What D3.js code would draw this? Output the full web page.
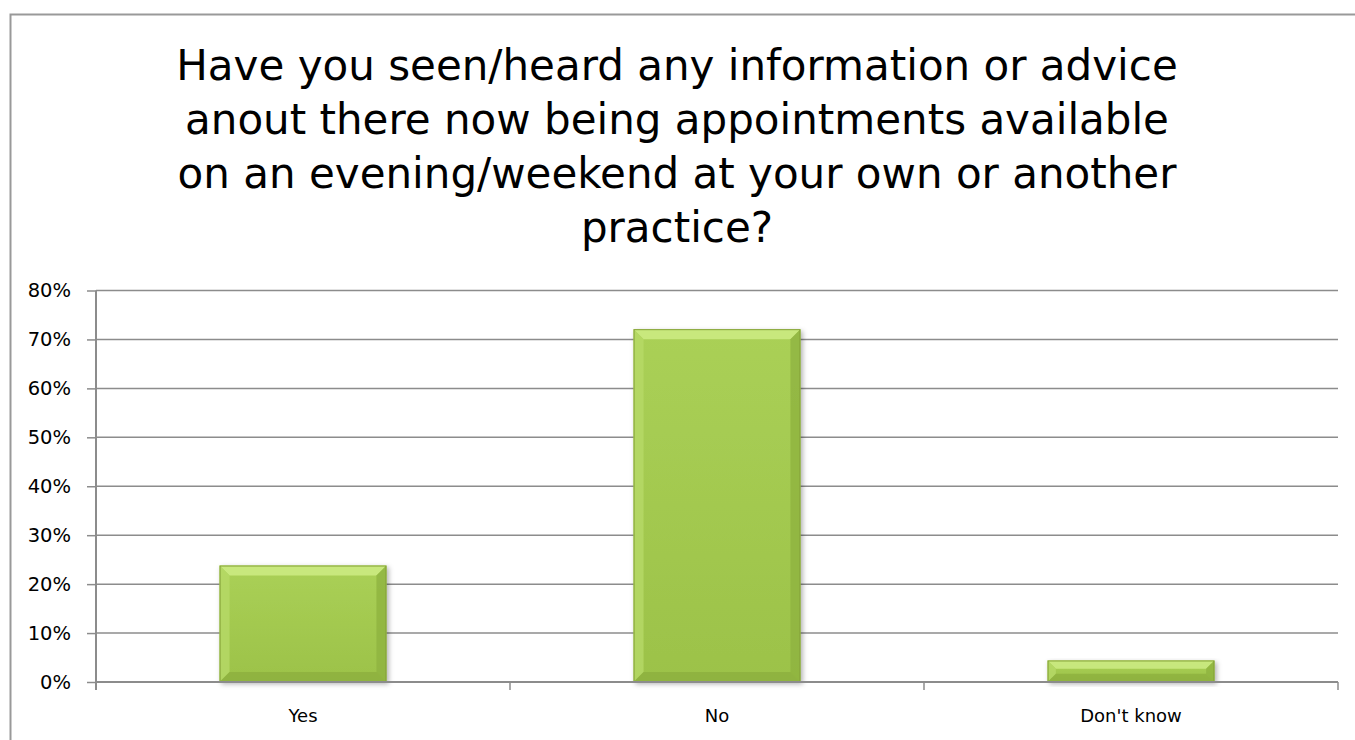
<!DOCTYPE html>
<html>
<head>
<meta charset="utf-8">
<script src="https://cdn.jsdelivr.net/npm/d3@7"></script>
<style>
  body { margin: 0; background: #fff; }
  svg { display: block; }
</style>
</head>
<body>
<script>
// chart values
var categories = ["Yes", "No", "Don't know"];
var values = [0.238, 0.721, 0.044];
var yTicks = [0, 0.1, 0.2, 0.3, 0.4, 0.5, 0.6, 0.7, 0.8];
var titleLines = [
  "Have you seen/heard any information or advice",
  "anout there now being appointments available",
  "on an evening/weekend at your own or another",
  "practice?"
];

var W = 1355, H = 740;
var fontFam = "'DejaVu Sans', Verdana, sans-serif";
var gray = "#8c8c8c";

var svg = d3.select("body").append("svg")
    .attr("width", W).attr("height", H);

// drop shadow for bars
var defs = svg.append("defs");
var f = defs.append("filter").attr("id", "shadow")
    .attr("x", "-10%").attr("y", "-10%").attr("width", "130%").attr("height", "130%");
f.append("feDropShadow").attr("dx", 2).attr("dy", 2).attr("stdDeviation", 2.5)
    .attr("flood-color", "#000").attr("flood-opacity", 0.3);

var g1 = defs.append("linearGradient").attr("id", "barFill")
    .attr("x1", 0).attr("y1", 0).attr("x2", 0).attr("y2", 1);
g1.append("stop").attr("offset", "0%").attr("stop-color", "#aad056");
g1.append("stop").attr("offset", "100%").attr("stop-color", "#9cc249");

// outer frame
svg.append("rect")
    .attr("x", 10.5).attr("y", 14.5)
    .attr("width", W + 20).attr("height", H + 20)
    .attr("fill", "none").attr("stroke", "#999").attr("stroke-width", 2);

// title
var title = svg.append("text")
    .attr("font-family", fontFam)
    .attr("font-size", 42)
    .attr("fill", "#000")
    .attr("text-anchor", "middle");
title.selectAll("tspan").data(titleLines).enter().append("tspan")
    .attr("x", 677)
    .attr("y", function(d, i) { return 80 + i * 54; })
    .text(function(d) { return d; });

// scales
var x = d3.scaleBand().domain(categories).range([96, 1338])
    .paddingInner(0.597).paddingOuter(0.2985);
var y = d3.scaleLinear().domain([0, 0.8]).range([682, 290.5]);

// gridlines
svg.append("g").selectAll("line").data(yTicks.slice(1)).enter().append("line")
    .attr("x1", 96).attr("x2", 1338)
    .attr("y1", function(d) { return y(d); })
    .attr("y2", function(d) { return y(d); })
    .attr("stroke", gray).attr("stroke-width", 1.5);

// y axis
var yAxis = svg.append("g")
    .attr("transform", "translate(96,0)")
    .call(d3.axisLeft(y).tickValues(yTicks).tickFormat(d3.format(".0%"))
      .tickSize(9).tickPadding(16).tickSizeOuter(0));
yAxis.select(".domain").attr("stroke", gray).attr("stroke-width", 2)
    .attr("d", "M0,290.5V690");
yAxis.selectAll(".tick line").attr("stroke", gray).attr("stroke-width", 1.5);
yAxis.selectAll("text").attr("font-family", fontFam).attr("font-size", 19.5).attr("fill", "#000");

// bars with bevelled edges
var bars = svg.append("g").selectAll("g").data(values).enter().append("g")
    .attr("filter", "url(#shadow)");

bars.each(function(d, i) {
  var g = d3.select(this);
  var x0 = x(categories[i]), w = x.bandwidth();
  var y0 = y(d), h = y(0) - y(d);
  var b = Math.min(10, h / 2.6);
  g.append("rect").attr("x", x0).attr("y", y0).attr("width", w).attr("height", h)
      .attr("fill", "url(#barFill)");
  var x1 = x0 + w, y1 = y0 + h;
  var faces = [
    { pts: [[x0, y0], [x1, y0], [x1 - b, y0 + b], [x0 + b, y0 + b]], c: "#cbea82", o: 0.9 },
    { pts: [[x0, y0], [x0 + b, y0 + b], [x0 + b, y1 - b], [x0, y1]], c: "#b6da68", o: 0.8 },
    { pts: [[x1, y0], [x1, y1], [x1 - b, y1 - b], [x1 - b, y0 + b]], c: "#8fb340", o: 0.8 },
    { pts: [[x0, y1], [x0 + b, y1 - b], [x1 - b, y1 - b], [x1, y1]], c: "#87a83a", o: 0.6 }
  ];
  faces.forEach(function(fc) {
    g.append("polygon")
        .attr("points", fc.pts.map(function(p) { return p.join(","); }).join(" "))
        .attr("fill", fc.c).attr("opacity", fc.o);
  });
  g.append("rect").attr("x", x0 + 0.5).attr("y", y0 + 0.5)
      .attr("width", w - 1).attr("height", h - 1)
      .attr("fill", "none").attr("stroke", "#86a33a").attr("stroke-width", 1);
});

// x axis
var xAxis = svg.append("g")
    .attr("transform", "translate(0,682)")
    .call(d3.axisBottom(x).tickSize(0).tickPadding(27));
xAxis.select(".domain").attr("stroke", gray).attr("stroke-width", 2)
    .attr("d", "M96,0H1338");
xAxis.selectAll("text").attr("font-family", fontFam).attr("font-size", 18).attr("fill", "#000");

// category separators below the axis
var seps = [96, 96 + x.step(), 96 + 2 * x.step(), 1338];
svg.append("g").selectAll("line").data(seps.slice(1)).enter().append("line")
    .attr("x1", function(d) { return d; }).attr("x2", function(d) { return d; })
    .attr("y1", 682).attr("y2", 690)
    .attr("stroke", gray).attr("stroke-width", 1.5);
</script>
</body>
</html>
